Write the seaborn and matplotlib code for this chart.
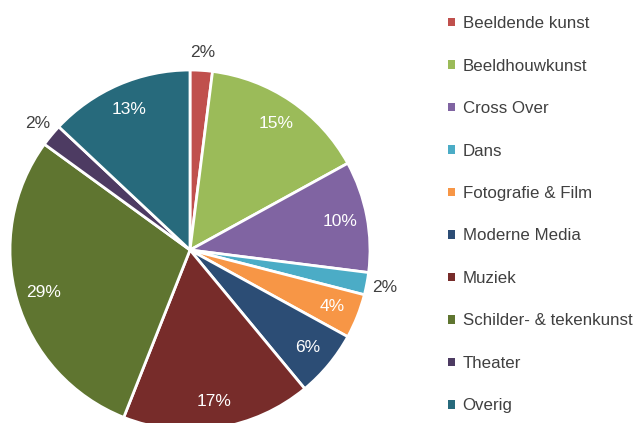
import numpy as np
import matplotlib
matplotlib.use("Agg")
import matplotlib.pyplot as plt
from matplotlib.patches import Patch
import seaborn as sns

# data (percent of total)
categories = ['Beeldende kunst', 'Beeldhouwkunst', 'Cross Over', 'Dans',
              'Fotografie & Film', 'Moderne Media', 'Muziek',
              'Schilder- & tekenkunst', 'Theater', 'Overig']
shares = [2, 15, 10, 2, 4, 6, 17, 29, 2, 13]
colors = ['#C0504D', '#9BBB59', '#8064A2', '#4BACC6', '#F79646',
          '#2C4D75', '#772C2A', '#5F7530', '#4D3B62', '#276A7C']

sns.set_theme(style="white")
plt.rcParams['font.family'] = ['Liberation Sans', 'DejaVu Sans']

fig = plt.figure(figsize=(6.38, 4.23), dpi=100)
ax = fig.add_axes([0, 0, 1, 1])
palette = sns.color_palette(colors)

wedges, texts, autotexts = ax.pie(
    shares, colors=palette, startangle=90, counterclock=False,
    autopct='%.0f%%', pctdistance=0.85,
    wedgeprops=dict(edgecolor='white', linewidth=2),
    textprops=dict(color='white', fontsize=12.5))

# small slices get their label outside the pie
for w, t, v in zip(wedges, autotexts, shares):
    if v < 3:
        ang = np.deg2rad((w.theta1 + w.theta2) / 2)
        t.set_position((1.1 * np.cos(ang), 1.1 * np.sin(ang)))
        t.set_color('#404040')

# pie centre at ~(190, 250) px, radius ~180 px
ax.set_aspect('auto')
ax.set_xlim(-190 / 180, 448 / 180)
ax.set_ylim(-173 / 180, 250 / 180)
ax.axis('off')

handles = [Patch(facecolor=c, edgecolor='none') for c in palette]
fig.legend(handles, categories, loc='upper left',
           bbox_to_anchor=(433 / 638, 1 - 1 / 423), frameon=False,
           fontsize=12.2, labelspacing=1.62, handlelength=0.4,
           handleheight=0.4, handletextpad=0.45, labelcolor='#404040')

fig.savefig('out.png', dpi=100, facecolor='white')
